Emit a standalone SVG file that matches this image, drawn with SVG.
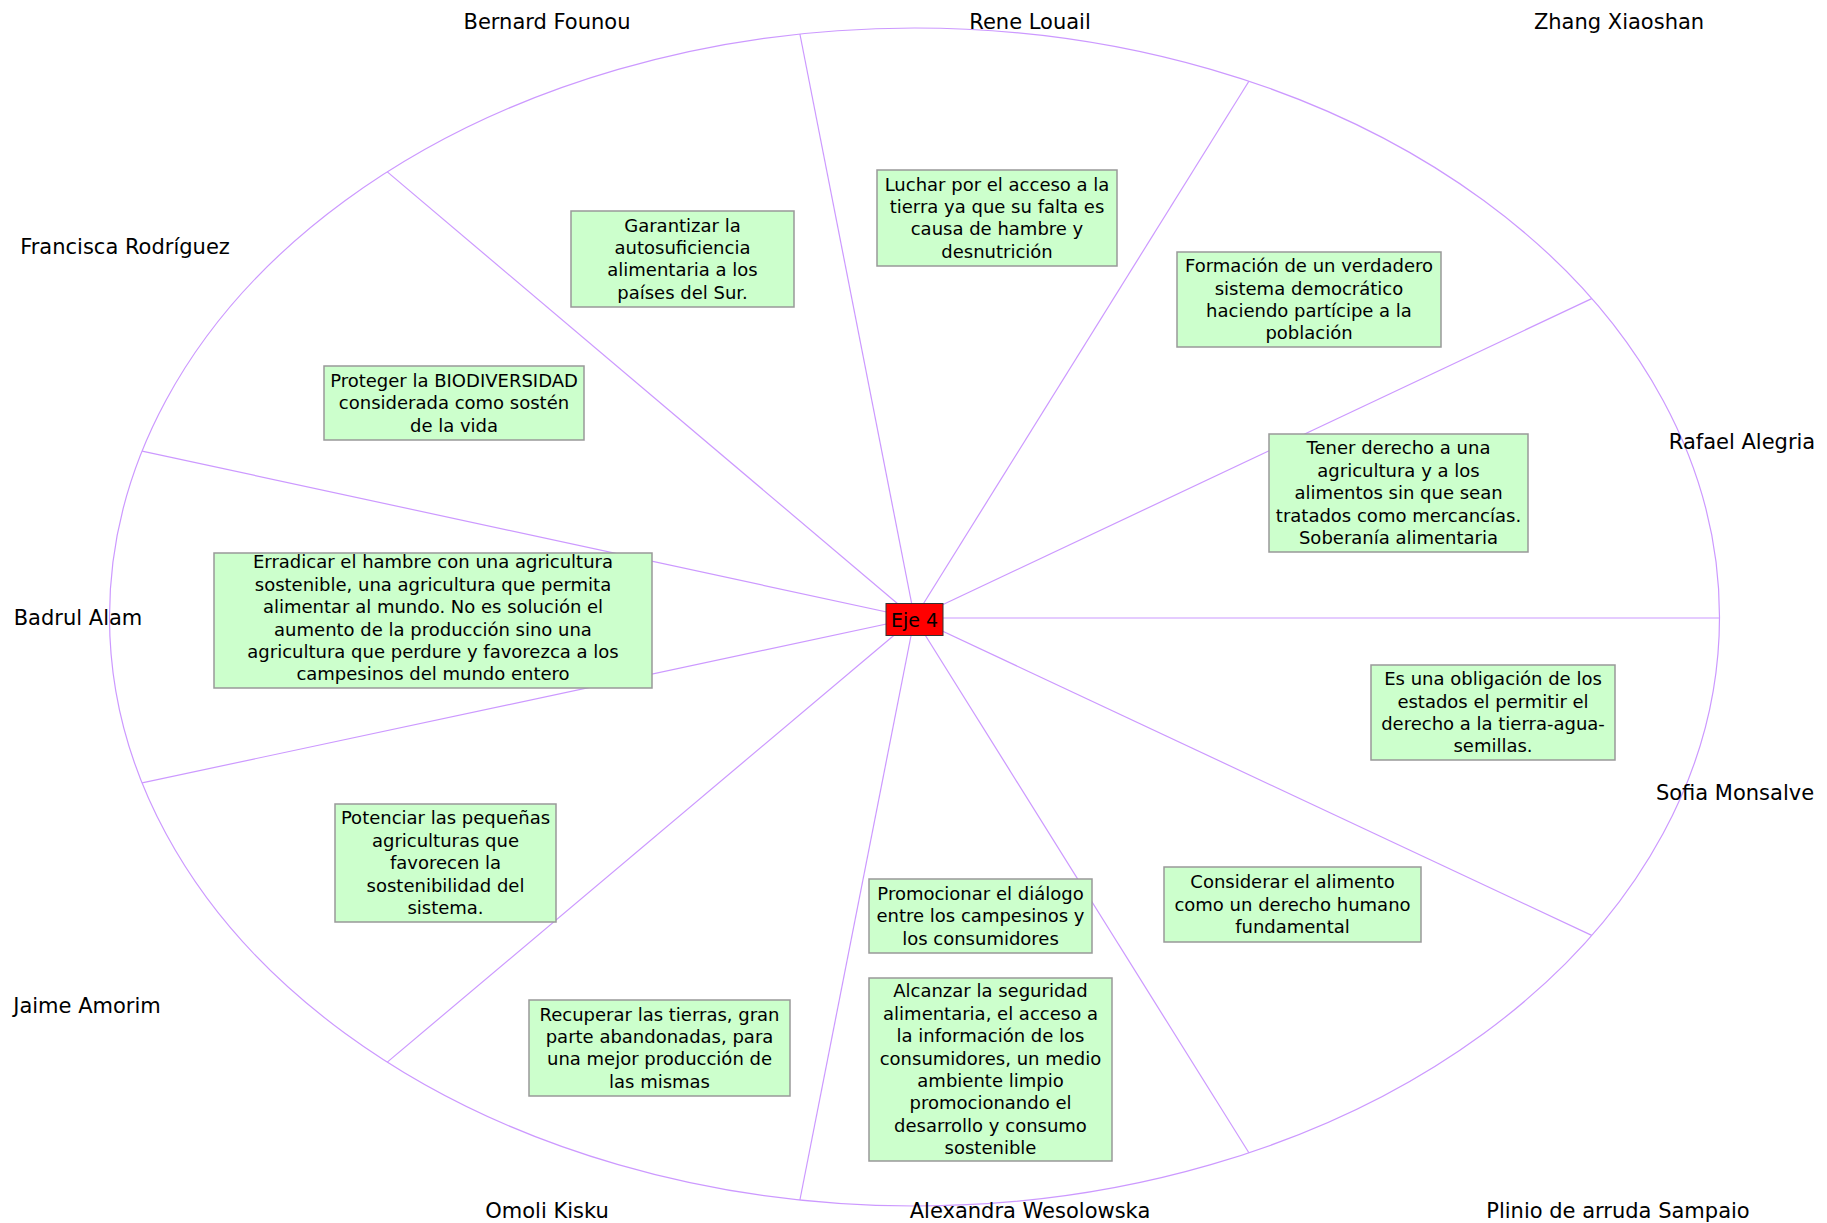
<svg xmlns="http://www.w3.org/2000/svg" width="1827" height="1223" viewBox="0 0 1827 1223">
<style>
.bg{fill:#ffffff}
.ring{fill:none;stroke:#cc99ff;stroke-width:1.2}
.spoke{stroke:#cc99ff;stroke-width:1.2;fill:none}
.box{fill:#ccffcc;stroke:#999999;stroke-width:1.5}
.t{font-family:"DejaVu Sans","Liberation Sans",sans-serif;font-size:18px;fill:#000;text-anchor:middle}
.name{font-family:"DejaVu Sans","Liberation Sans",sans-serif;font-size:21px;fill:#000;text-anchor:middle}
.center{fill:#ff0000;stroke:#333333;stroke-width:1}
.ct{font-family:"DejaVu Sans","Liberation Sans",sans-serif;font-size:19px;fill:#000;text-anchor:middle}
</style>
<rect class="bg" x="0" y="0" width="1827" height="1223"/>
<g id="connectors">
<ellipse class="ring" cx="914.5" cy="617" rx="805" ry="589"/>
<line class="spoke" x1="914.5" y1="618" x2="1719.5" y2="618"/>
<line class="spoke" x1="914.5" y1="618" x2="1591.7" y2="298.6"/>
<line class="spoke" x1="914.5" y1="618" x2="1248.9" y2="81.2"/>
<line class="spoke" x1="914.5" y1="618" x2="799.9" y2="34"/>
<line class="spoke" x1="914.5" y1="618" x2="387.3" y2="171.9"/>
<line class="spoke" x1="914.5" y1="618" x2="142.1" y2="451.1"/>
<line class="spoke" x1="914.5" y1="618" x2="142.1" y2="782.9"/>
<line class="spoke" x1="914.5" y1="618" x2="387.3" y2="1062.1"/>
<line class="spoke" x1="914.5" y1="618" x2="799.9" y2="1200"/>
<line class="spoke" x1="914.5" y1="618" x2="1248.9" y2="1152.8"/>
<line class="spoke" x1="914.5" y1="618" x2="1591.7" y2="935.4"/>
</g>
<g id="names">
<text class="name" x="547" y="29">Bernard Founou</text>
<text class="name" x="1030" y="29">Rene Louail</text>
<text class="name" x="1619" y="29">Zhang Xiaoshan</text>
<text class="name" x="125" y="254">Francisca Rodríguez</text>
<text class="name" x="1742" y="449">Rafael Alegria</text>
<text class="name" x="78" y="625">Badrul Alam</text>
<text class="name" x="1735" y="800">Sofia Monsalve</text>
<text class="name" x="87" y="1013">Jaime Amorim</text>
<text class="name" x="547" y="1218">Omoli Kisku</text>
<text class="name" x="1030" y="1218">Alexandra Wesolowska</text>
<text class="name" x="1618" y="1218">Plinio de arruda Sampaio</text>
</g>
<g id="n1">
<rect class="box" x="571" y="211" width="223" height="96"/>
<text class="t"><tspan x="682.5" y="231.6">Garantizar la</tspan><tspan x="682.5" y="254">autosuficiencia</tspan><tspan x="682.5" y="276.4">alimentaria a los</tspan><tspan x="682.5" y="298.8">países del Sur.</tspan></text>
</g>
<g id="n2">
<rect class="box" x="877" y="170" width="240" height="96"/>
<text class="t"><tspan x="997" y="190.6">Luchar por el acceso a la</tspan><tspan x="997" y="213">tierra ya que su falta es</tspan><tspan x="997" y="235.4">causa de hambre y</tspan><tspan x="997" y="257.8">desnutrición</tspan></text>
</g>
<g id="n3">
<rect class="box" x="1177" y="252" width="264" height="95"/>
<text class="t"><tspan x="1309" y="272.1">Formación de un verdadero</tspan><tspan x="1309" y="294.5">sistema democrático</tspan><tspan x="1309" y="316.9">haciendo partícipe a la</tspan><tspan x="1309" y="339.3">población</tspan></text>
</g>
<g id="n4">
<rect class="box" x="1269" y="434" width="259" height="118"/>
<text class="t"><tspan x="1398.5" y="454.4">Tener derecho a una</tspan><tspan x="1398.5" y="476.8">agricultura y a los</tspan><tspan x="1398.5" y="499.2">alimentos sin que sean</tspan><tspan x="1398.5" y="521.6">tratados como mercancías.</tspan><tspan x="1398.5" y="544">Soberanía alimentaria</tspan></text>
</g>
<g id="n5">
<rect class="box" x="324" y="366" width="260" height="74"/>
<text class="t"><tspan x="454" y="386.8">Proteger la BIODIVERSIDAD</tspan><tspan x="454" y="409.2">considerada como sostén</tspan><tspan x="454" y="431.6">de la vida</tspan></text>
</g>
<g id="n6">
<rect class="box" x="214" y="553" width="438" height="135"/>
<text class="t"><tspan x="433" y="568.4">Erradicar el hambre con una agricultura</tspan><tspan x="433" y="590.8">sostenible, una agricultura que permita</tspan><tspan x="433" y="613.2">alimentar al mundo. No es solución el</tspan><tspan x="433" y="635.6">aumento de la producción sino una</tspan><tspan x="433" y="658">agricultura que perdure y favorezca a los</tspan><tspan x="433" y="680.4">campesinos del mundo entero</tspan></text>
</g>
<g id="n7">
<rect class="box" x="335" y="804" width="221" height="118"/>
<text class="t"><tspan x="445.5" y="824.4">Potenciar las pequeñas</tspan><tspan x="445.5" y="846.8">agriculturas que</tspan><tspan x="445.5" y="869.2">favorecen la</tspan><tspan x="445.5" y="891.6">sostenibilidad del</tspan><tspan x="445.5" y="914">sistema.</tspan></text>
</g>
<g id="n8">
<rect class="box" x="529" y="1000" width="261" height="96"/>
<text class="t"><tspan x="659.5" y="1020.6">Recuperar las tierras, gran</tspan><tspan x="659.5" y="1043">parte abandonadas, para</tspan><tspan x="659.5" y="1065.4">una mejor producción de</tspan><tspan x="659.5" y="1087.8">las mismas</tspan></text>
</g>
<g id="n9">
<rect class="box" x="869" y="879" width="223" height="74"/>
<text class="t"><tspan x="980.5" y="899.8">Promocionar el diálogo</tspan><tspan x="980.5" y="922.2">entre los campesinos y</tspan><tspan x="980.5" y="944.6">los consumidores</tspan></text>
</g>
<g id="n10">
<rect class="box" x="869" y="978" width="243" height="183"/>
<text class="t"><tspan x="990.5" y="997.3">Alcanzar la seguridad</tspan><tspan x="990.5" y="1019.7">alimentaria, el acceso a</tspan><tspan x="990.5" y="1042.1">la información de los</tspan><tspan x="990.5" y="1064.5">consumidores, un medio</tspan><tspan x="990.5" y="1086.9">ambiente limpio</tspan><tspan x="990.5" y="1109.3">promocionando el</tspan><tspan x="990.5" y="1131.7">desarrollo y consumo</tspan><tspan x="990.5" y="1154.1">sostenible</tspan></text>
</g>
<g id="n11">
<rect class="box" x="1164" y="867" width="257" height="75"/>
<text class="t"><tspan x="1292.5" y="888.3">Considerar el alimento</tspan><tspan x="1292.5" y="910.7">como un derecho humano</tspan><tspan x="1292.5" y="933.1">fundamental</tspan></text>
</g>
<g id="n12">
<rect class="box" x="1371" y="665" width="244" height="95"/>
<text class="t"><tspan x="1493" y="685.1">Es una obligación de los</tspan><tspan x="1493" y="707.5">estados el permitir el</tspan><tspan x="1493" y="729.9">derecho a la tierra-agua-</tspan><tspan x="1493" y="752.3">semillas.</tspan></text>
</g>
<g id="center">
<rect class="center" x="886" y="603.5" width="57" height="32"/>
<text class="ct" x="914.5" y="626.5">Eje 4</text>
</g>
</svg>
